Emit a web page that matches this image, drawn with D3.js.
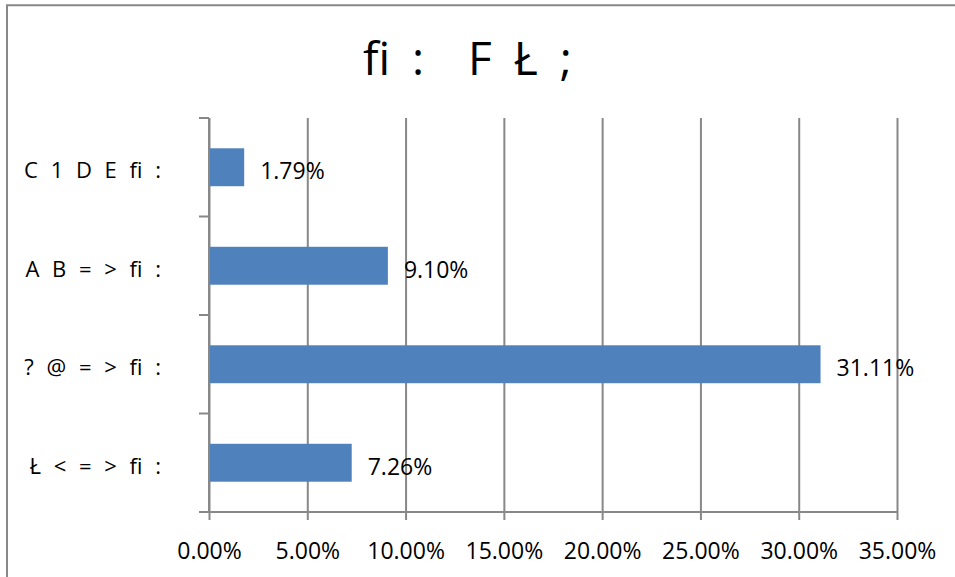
<!DOCTYPE html>
<html>
<head>
<meta charset="utf-8">
<script src="https://cdn.jsdelivr.net/npm/d3@7"></script>
<style>
  html, body { margin: 0; padding: 0; background: #fff; overflow: hidden; }
  svg { display: block; }
  text { font-family: "Open Sans", sans-serif; fill: #000; }
</style>
</head>
<body>
<svg id="chart" width="955" height="577"></svg>
<script>
// ---- data ----
const titleText = "fi :  F Ł ;";
const categories = ["C 1 D E fi :", "A B = > fi :", "? @ = > fi :", "Ł < = > fi :"];
const values = [0.0179, 0.0910, 0.3111, 0.0726];
const tickValues = [0, 0.05, 0.10, 0.15, 0.20, 0.25, 0.30, 0.35];

// ---- layout ----
const W = 955, H = 577;
const plot = { left: 209, right: 897, top: 118, bottom: 512 };
const gridColor = "#888888";
const barColor = "#4F81BD";

const svg = d3.select("#chart");

// chart frame (extends past right/bottom edge as in the reference)
svg.append("path")
  .attr("d", `M7,${H + 10}V5.3H${W + 10}`)
  .attr("fill", "none")
  .attr("stroke", gridColor).attr("stroke-width", 2);

// title
svg.append("text")
  .attr("x", 363).attr("y", 75)
  .attr("font-size", 46)
  .attr("word-spacing", 10)
  .style("white-space", "pre")
  .text(titleText);

// scales
const x = d3.scaleLinear().domain([0, 0.35]).range([plot.left, plot.right]);
const y = d3.scaleBand().domain(categories).range([plot.top, plot.bottom])
  .paddingInner(0.615).paddingOuter(0.3075);

// vertical gridlines
svg.append("g")
  .attr("transform", `translate(0,${plot.bottom})`)
  .call(d3.axisBottom(x).tickValues(tickValues).tickSize(-(plot.bottom - plot.top)).tickFormat(""))
  .call(g => g.select(".domain").remove())
  .call(g => g.selectAll(".tick line").attr("stroke", gridColor).attr("stroke-width", 2));

// x axis with ticks
const xAxis = svg.append("g")
  .attr("transform", `translate(0,${plot.bottom})`)
  .call(d3.axisBottom(x).tickValues(tickValues).tickSize(8).tickSizeOuter(0).tickPadding(0)
    .tickFormat(d3.format(".2%")));
xAxis.select(".domain").attr("stroke", gridColor).attr("stroke-width", 2)
  .attr("d", `M${plot.left - 10},0H${plot.right}`);
xAxis.selectAll(".tick line").attr("stroke", gridColor).attr("stroke-width", 2);
xAxis.selectAll(".tick text")
  .attr("font-family", "Open Sans, sans-serif")
  .attr("font-size", 23)
  .attr("fill", "#000")
  .attr("dy", null)
  .attr("y", 47);

// bars
svg.append("g").selectAll("rect")
  .data(categories)
  .join("rect")
  .attr("x", x(0))
  .attr("y", (d) => y(d))
  .attr("width", (d, i) => x(values[i]) - x(0))
  .attr("height", y.bandwidth())
  .attr("fill", barColor);

// y axis line + category boundary ticks
const yAxisG = svg.append("g");
yAxisG.append("line")
  .attr("x1", x(0)).attr("x2", x(0))
  .attr("y1", plot.top).attr("y2", plot.bottom)
  .attr("stroke", gridColor).attr("stroke-width", 2);
const gap = (y.step() - y.bandwidth()) / 2;
const boundaries = categories.map(c => y(c) - gap).concat([plot.bottom]);
yAxisG.selectAll("line.tk")
  .data(boundaries.slice(0, -1))
  .join("line")
  .attr("class", "tk")
  .attr("x1", x(0) - 10).attr("x2", x(0))
  .attr("y1", d => d).attr("y2", d => d)
  .attr("stroke", gridColor).attr("stroke-width", 2);

// category labels
svg.append("g").selectAll("text")
  .data(categories)
  .join("text")
  .attr("x", 161)
  .attr("y", d => y(d) + y.bandwidth() / 2 + 11)
  .attr("text-anchor", "end")
  .attr("font-size", 22)
  .attr("word-spacing", 7)
  .style("white-space", "pre")
  .text(d => d);

// data labels
svg.append("g").selectAll("text")
  .data(categories)
  .join("text")
  .attr("x", (d, i) => x(values[i]) + 16)
  .attr("y", d => y(d) + y.bandwidth() / 2 + 12)
  .attr("font-size", 23)
  .text((d, i) => d3.format(".2%")(values[i]));
</script>
</body>
</html>
